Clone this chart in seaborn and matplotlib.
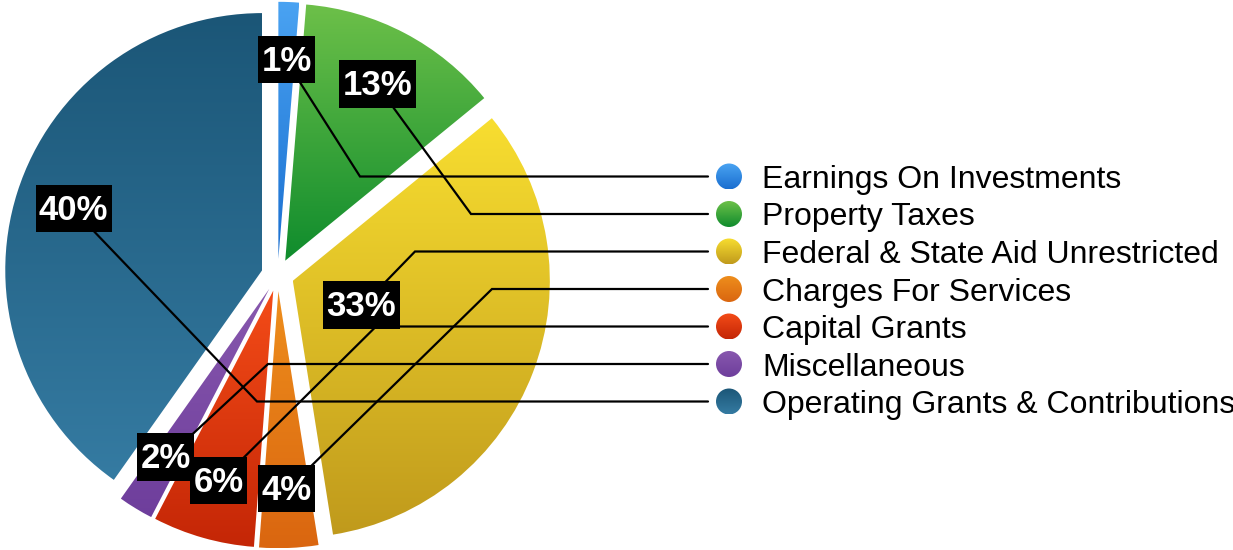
import numpy as np
import matplotlib
matplotlib.use("Agg")
import matplotlib.pyplot as plt
from matplotlib.colors import LinearSegmentedColormap
from matplotlib.patches import Circle
from matplotlib.path import Path
import seaborn as sns

# data
categories = ["Earnings On Investments", "Property Taxes", "Federal & State Aid Unrestricted",
              "Charges For Services", "Capital Grants", "Miscellaneous",
              "Operating Grants & Contributions"]
shares = [1.3, 12.8, 33.4, 3.7, 6.4, 2.2, 40.2]
top_colors = ["#4aa3f2", "#6dc049", "#f8de30", "#ee8e1c", "#f44c18", "#8858ae", "#1b5677"]
bottom_colors = ["#1a6fd0", "#0f8c2d", "#c09a1c", "#da6610", "#c42606", "#6e3e9c", "#357ba2"]

# layout, in pixels of the 1233x550 picture (y measured from the top)
W, H = 1233, 550
pie_cx, pie_cy = 277.7, 275
pie_radius = 257
explode = 0.063  # fraction of the radius
label_dist = [0.77, 0.77, 0.285, 0.775, 0.775, 0.775, 0.77]
elbow_x = [360, 471, 415, 492, 376, 268, 257]
line_end_x = 708
dot_x, text_x = 729, 762
row_top, row_step = 176.5, 37.5


def gradient_fill(ax, patch, top, bottom, z):
    # paint a vertical gradient clipped to the patch
    path = patch.get_path().transformed(patch.get_patch_transform())
    x0, y0, x1, y1 = path.get_extents().extents
    cmap = LinearSegmentedColormap.from_list("g", [bottom, top])
    grad = np.linspace(0, 1, 256).reshape(-1, 1)
    im = ax.imshow(grad, extent=(x0, x1, y0, y1), origin="lower", cmap=cmap,
                   aspect="auto", interpolation="bilinear", zorder=z)
    im.set_clip_path(patch)
    patch.set_facecolor("none")
    patch.set_edgecolor("none")


def label_box(x0, y0, width, height, mutation_size):
    # black box with more room above/below the digits than at the sides
    px = 0.1 * mutation_size
    top = 0.26 * mutation_size
    bot = 0.16 * mutation_size
    l, r = x0 - px, x0 + width + px
    b, t = y0 - bot, y0 + height + top
    return Path([(l, b), (r, b), (r, t), (l, t), (l, b)], closed=True)


sns.set_theme(style="white")
plt.rcParams["font.family"] = ["Liberation Sans", "DejaVu Sans"]

fig = plt.figure(figsize=(W / 100, H / 100), dpi=100)
ax = fig.add_axes([0, 0, 1, 1])

# matplotlib takes explode in data units
wedges, _ = ax.pie(shares, explode=[explode * pie_radius] * len(shares), startangle=90,
                   counterclock=False, radius=pie_radius,
                   center=(pie_cx, H - pie_cy))

for i, w in enumerate(wedges):
    gradient_fill(ax, w, top_colors[i], bottom_colors[i], 1)

    # percentage label
    mid = np.deg2rad((w.theta1 + w.theta2) / 2)
    lx = w.center[0] + label_dist[i] * w.r * np.cos(mid)
    ly = w.center[1] + label_dist[i] * w.r * np.sin(mid)
    ax.text(lx, ly, f"{shares[i]:.0f}%", ha="center", va="center", color="white",
            fontsize=25, fontweight="bold", zorder=6,
            bbox=dict(boxstyle=label_box, fc="black", ec="none"))

    # leader line to the legend row
    ry = H - (row_top + i * row_step)
    ax.plot([lx, elbow_x[i], line_end_x], [ly, ry, ry], color="black", lw=1.6,
            zorder=4, solid_joinstyle="miter")

    # legend dot and text
    dot = Circle((dot_x, ry), 13, zorder=3)
    ax.add_patch(dot)
    gradient_fill(ax, dot, top_colors[i], bottom_colors[i], 3)
    ax.text(text_x, ry - 11.5, categories[i], ha="left", va="baseline",
            fontsize=23, color="black", zorder=5)

ax.set_xlim(0, W)
ax.set_ylim(0, H)
ax.set_aspect("equal")
ax.axis("off")

fig.savefig("out.png", dpi=100, facecolor="white")
